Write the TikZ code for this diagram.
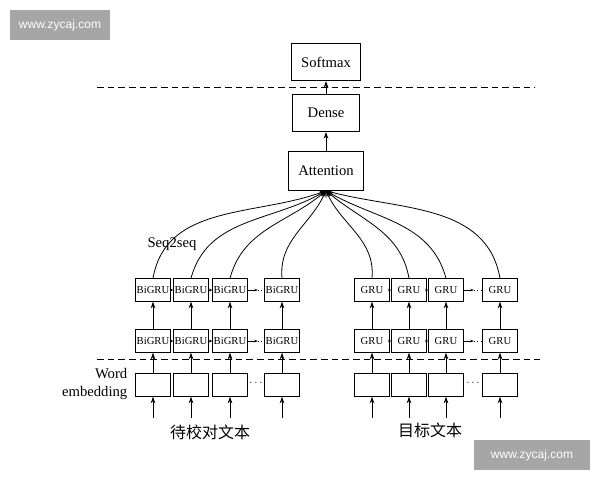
\documentclass[tikz,border=0pt]{standalone}
\usepackage{fontspec}
\setmainfont{Liberation Serif}
\newfontfamily\cjk{Noto Sans CJK SC}
\newfontfamily\wm{Liberation Sans}
\usetikzlibrary{arrows.meta}
\begin{document}
\begin{tikzpicture}[x=0.75pt,y=-0.75pt,
  box/.style={draw,line width=0.6pt,minimum width=26pt,minimum height=17pt,inner sep=0pt,font=\fontsize{8}{8}\selectfont},
  bigbox/.style={draw,line width=0.6pt,inner sep=0pt,font=\fontsize{11}{11}\selectfont},
  arr/.style={line width=0.6pt,-{Stealth[length=5pt,width=3.5pt]}},
  sarr/.style={line width=0.5pt,-{Stealth[length=2.5pt,width=2pt]}},
  sepline/.style={line width=0.6pt,dash pattern=on 5pt off 3pt},
  wmk/.style={fill=black!35,text=white,font=\wm\fontsize{9}{9}\selectfont,inner sep=0pt}]
\useasboundingbox (0,0) rectangle (600,480);
\node[wmk,minimum width=75pt,minimum height=22pt] (w1) at (60,25) {www.zycaj.com};
\node[wmk,minimum width=87pt,minimum height=22pt] (w2) at (532,455) {www.zycaj.com};
\node[bigbox,minimum width=52pt,minimum height=28pt] (soft) at (326,62) {Softmax};
\node[bigbox,minimum width=50pt,minimum height=28pt] (dense) at (326,113) {Dense};
\node[bigbox,minimum width=56pt,minimum height=29pt] (att) at (326,171) {Attention};
\draw[sepline] (97,87) -- (535,87);
\draw[sepline] (97,359) -- (540,359);
\draw[arr] (dense) -- (soft);
\draw[arr] (att) -- (dense);
\node[font=\fontsize{11}{11}\selectfont] (s2s) at (172,244) {Seq2seq};
\node[font=\fontsize{11}{13}\selectfont,align=right,anchor=east] (we) at (132,384) {Word\\embedding};
\foreach \n/\x/\t in {a1/153/BiGRU,a2/191/BiGRU,a3/230/BiGRU,a4/282/BiGRU,b1/372/GRU,b2/409/GRU,b3/446/GRU,b4/500/GRU}{
  \node[box] (u\n) at (\x,290) {\t};
  \node[box] (l\n) at (\x,341) {\t};
  \node[box] (e\n) at (\x,385) {};
  \coordinate (i\n) at (\x,418);
  \draw[arr] (i\n) -- (e\n);
  \draw[arr] (e\n) -- (l\n);
  \draw[arr] (l\n) -- (u\n);
}
\foreach \r in {u,l}{
  \foreach \p in {a,b}{
    \draw[sarr] (\r\p1) -- (\r\p2);
    \draw[sarr] (\r\p2) -- (\r\p3);
    \draw[sarr] (\r\p3.east) -- ++(10,0) coordinate (d\r\p);
    \draw[dotted,line width=0.6pt] (d\r\p) -- (\r\p4.west);
  }
}
\node[font=\fontsize{8}{8}\selectfont] (dots1) at (256,383) {$\cdots$};
\node[font=\fontsize{8}{8}\selectfont] (dots2) at (473,383) {$\cdots$};
\draw[arr] (ua1.north) to[out=80,in=200] (att.south);
\draw[arr] (ua2.north) to[out=75,in=210] (att.south);
\draw[arr] (ua3.north) to[out=75,in=220] (att.south);
\draw[arr] (ua4.north) to[out=95,in=245] (att.south);
\draw[arr] (ub1.north) to[out=85,in=295] (att.south);
\draw[arr] (ub2.north) to[out=100,in=320] (att.south);
\draw[arr] (ub3.north) to[out=105,in=330] (att.south);
\draw[arr] (ub4.north) to[out=100,in=345] (att.south);
\node[font=\cjk\fontsize{12}{12}\selectfont] (t1) at (210,432) {待校对文本};
\node[font=\cjk\fontsize{12}{12}\selectfont] (t2) at (430,430) {目标文本};
\end{tikzpicture}
\end{document}
